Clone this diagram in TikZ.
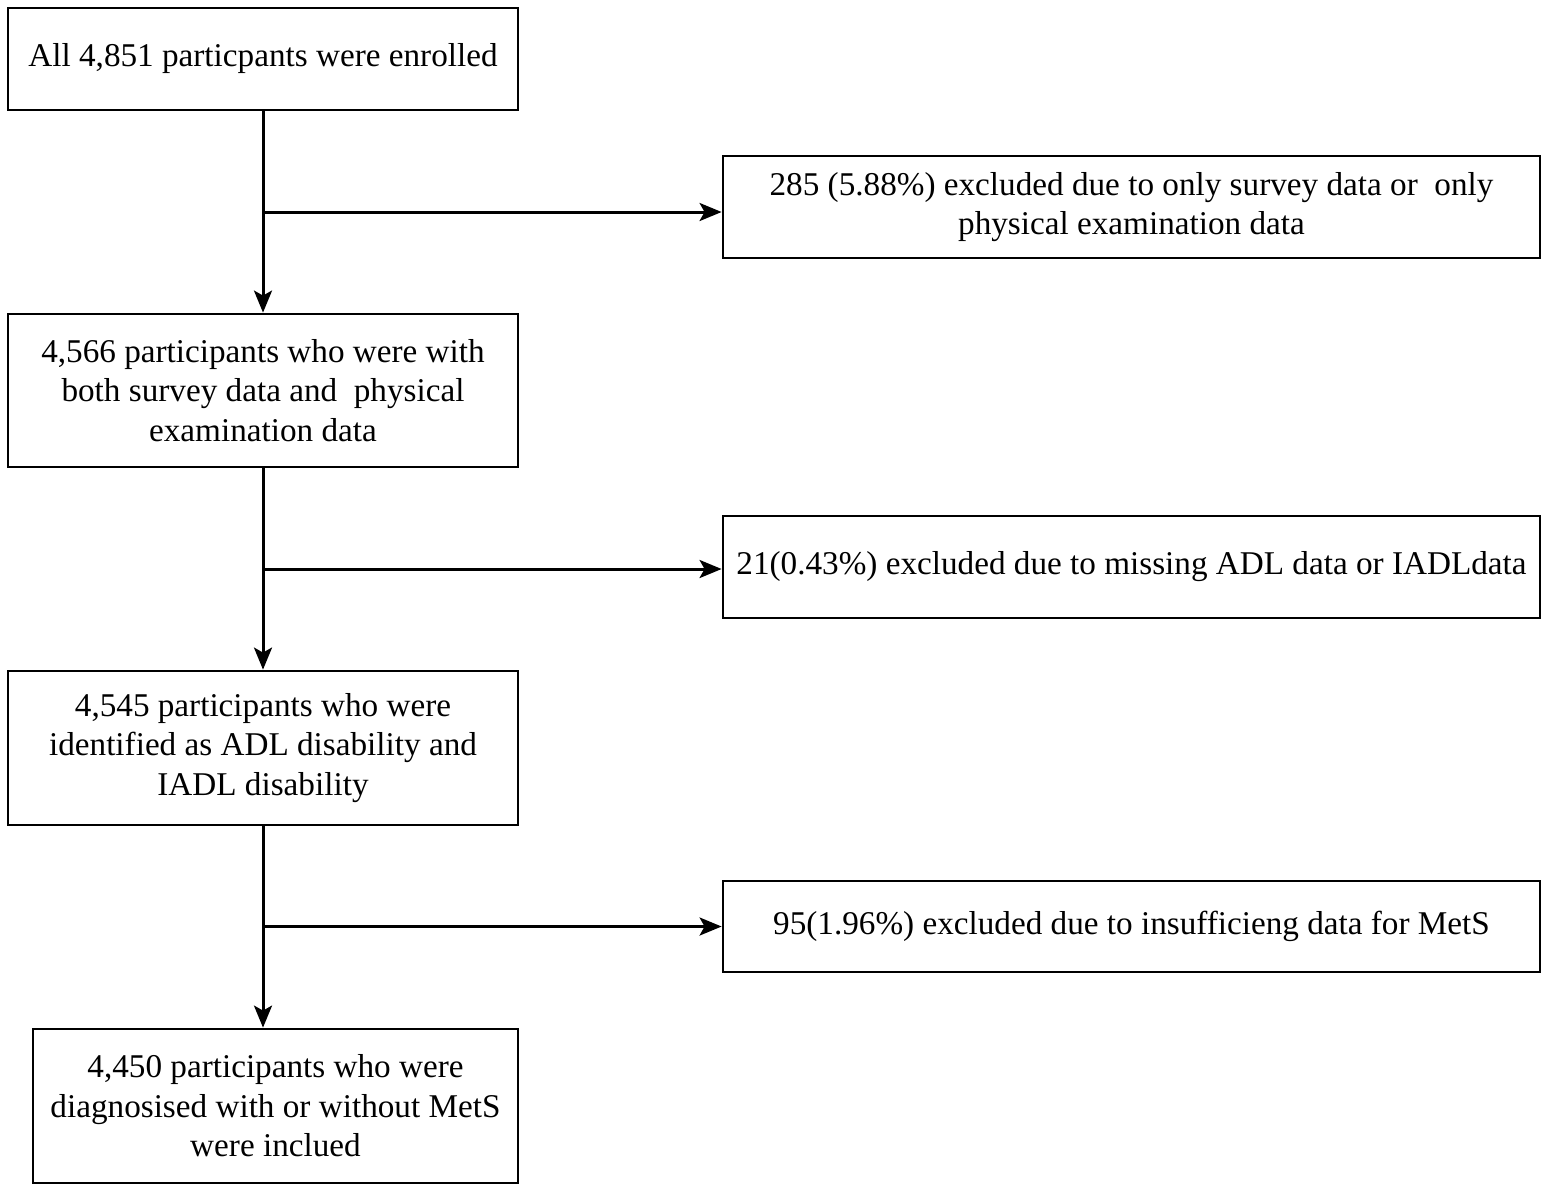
\documentclass[tikz,border=0pt]{standalone}
\usepackage{fontspec}
\setmainfont{Liberation Serif}
\usetikzlibrary{arrows.meta}

\begin{document}
\begin{tikzpicture}[x=0.5pt,y=-0.5pt,
    box/.style={draw=black, line width=1.4pt, align=center, inner sep=0pt, font=\fontsize{16.6}{19.8}\selectfont},
    mainbox/.style={box, minimum width=255pt},
    exclbox/.style={box, minimum width=408.5pt},
    flow/.style={line width=1.5pt, -{Stealth[length=11pt,width=9pt,inset=2.5pt]}}]
    \useasboundingbox (0,0) rectangle (1547,1190);
    % main column
    \node[mainbox, minimum height=51pt] (enrol) at (263,59) {All 4,851 particpants were enrolled};
    \node[mainbox, minimum height=76.5pt] (survey) at (263,390.5) {4,566 participants who were with\\both survey data and~ physical\\examination data};
    \node[mainbox, minimum height=77pt] (adl) at (263,748) {4,545 participants who were\\identified as ADL disability and\\IADL disability};
    \node[box, minimum width=242.5pt, minimum height=77pt] (incl) at (275.5,1106) {4,450 participants who were\\diagnosised with or without MetS\\were inclued};
    % excluded boxes
    \node[exclbox, minimum height=51pt] (excl1) at (1131.5,207) {285 (5.88\%) excluded due to only survey data or~ only\\physical examination data};
    \node[exclbox, minimum height=51pt] (excl2) at (1131.5,567) {21(0.43\%) excluded due to missing ADL data or IADLdata};
    \node[exclbox, minimum height=45.5pt] (excl3) at (1131.5,926.5) {95(1.96\%) excluded due to insufficieng data for MetS};
    % arrows
    \draw[flow] (enrol.south) -- (survey.north);
    \draw[flow] (survey.south) -- (adl.north);
    \draw[flow] (adl.south) -- (adl.south |- incl.north);
    \coordinate (b1) at (263,212);
    \coordinate (b2) at (263,569);
    \coordinate (b3) at (263,926.5);
    \draw[flow] (b1) -- (b1 -| excl1.west);
    \draw[flow] (b2) -- (b2 -| excl2.west);
    \draw[flow] (b3) -- (b3 -| excl3.west);
\end{tikzpicture}
\end{document}
